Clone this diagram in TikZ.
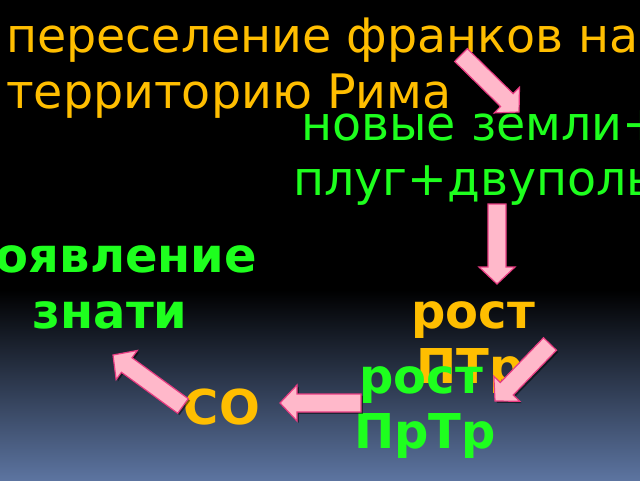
\documentclass[tikz,border=0pt]{standalone}
\usepackage{fontspec}
\setmainfont{DejaVu Sans}
\usetikzlibrary{calc}
\definecolor{orng}{RGB}{255,190,0}
\definecolor{grn}{RGB}{30,255,30}
\definecolor{pinkf}{RGB}{255,184,202}
\definecolor{pinkl}{RGB}{232,60,130}
\definecolor{bgbot}{RGB}{92,116,160}
\tikzset{
  toptxt/.style={inner sep=0pt, anchor=base west, font=\fontsize{47.5}{56}\selectfont},
  bottxt/.style={inner sep=0pt, anchor=base, font=\bfseries\fontsize{48}{56}\selectfont},
  arrowbox/.style={fill=pinkf, draw=pinkl, line width=1.2pt, line join=miter},
  arrowshadow/.style={fill=black, opacity=0.5}
}
\newcommand\arrpath[3]{($(#1)!9pt!90:(#3)$) -- ($(#2)!9pt!90:(#3)$) -- ($(#2)!18pt!90:(#3)$) -- (#3) -- ($(#2)!18pt!-90:(#3)$) -- ($(#2)!9pt!-90:(#3)$) -- ($(#1)!9pt!-90:(#3)$) -- cycle}
\newcommand\blockarr[2]{%
  \coordinate (#1s) at ($(#1)+(1.8,1.8)$);
  \coordinate (#2s) at ($(#2)+(1.8,1.8)$);
  \coordinate (#1sn) at ($(#2s)!17pt!(#1s)$);
  \coordinate (#1n) at ($(#2)!17pt!(#1)$);
  \fill[arrowshadow] \arrpath{#1s}{#1sn}{#2s};
  \draw[arrowbox] \arrpath{#1}{#1n}{#2};
}
\begin{document}
\begin{tikzpicture}[x=1pt,y=-1pt]
\useasboundingbox (0,0) rectangle (640,480);
\fill[black] (0,0) rectangle (640,291);
\shade[top color=black, bottom color=bgbot] (0,290) rectangle (640,480);
% texts
\node[toptxt, text=orng] (p1) at (6,52) {переселение франков на};
\node[toptxt, text=orng] (p2) at (6,108) {территорию Рима};
\node[toptxt, text=grn] (n1) at (301,140) {новые земли+};
\node[toptxt, text=grn] (n2) at (293,195) {плуг+двуполье};
\node[bottxt, text=grn] (z1) at (110,272) {появление};
\node[bottxt, text=grn] (z2) at (110,328) {знати};
\node[bottxt, text=orng] (r1) at (473,328) {рост};
\node[bottxt, text=orng] (r2) at (470,383) {ПТр};
\node[bottxt, text=grn] (g1) at (421,393) {рост};
\node[bottxt, text=grn] (g2) at (425,448) {ПрТр};
\node[bottxt, text=orng] (so) at (222,424) {СО};
% arrow ends
\coordinate (a1t) at (461,55);  \coordinate (a1h) at (519,112);
\coordinate (a2t) at (497,204); \coordinate (a2h) at (497,284);
\coordinate (a3t) at (550,344); \coordinate (a3h) at (495,401);
\coordinate (a4t) at (361,403); \coordinate (a4h) at (280,403);
\coordinate (a5t) at (183,406); \coordinate (a5h) at (113,355);
\blockarr{a1t}{a1h}
\blockarr{a2t}{a2h}
\blockarr{a3t}{a3h}
\blockarr{a4t}{a4h}
\blockarr{a5t}{a5h}
\end{tikzpicture}
\end{document}
